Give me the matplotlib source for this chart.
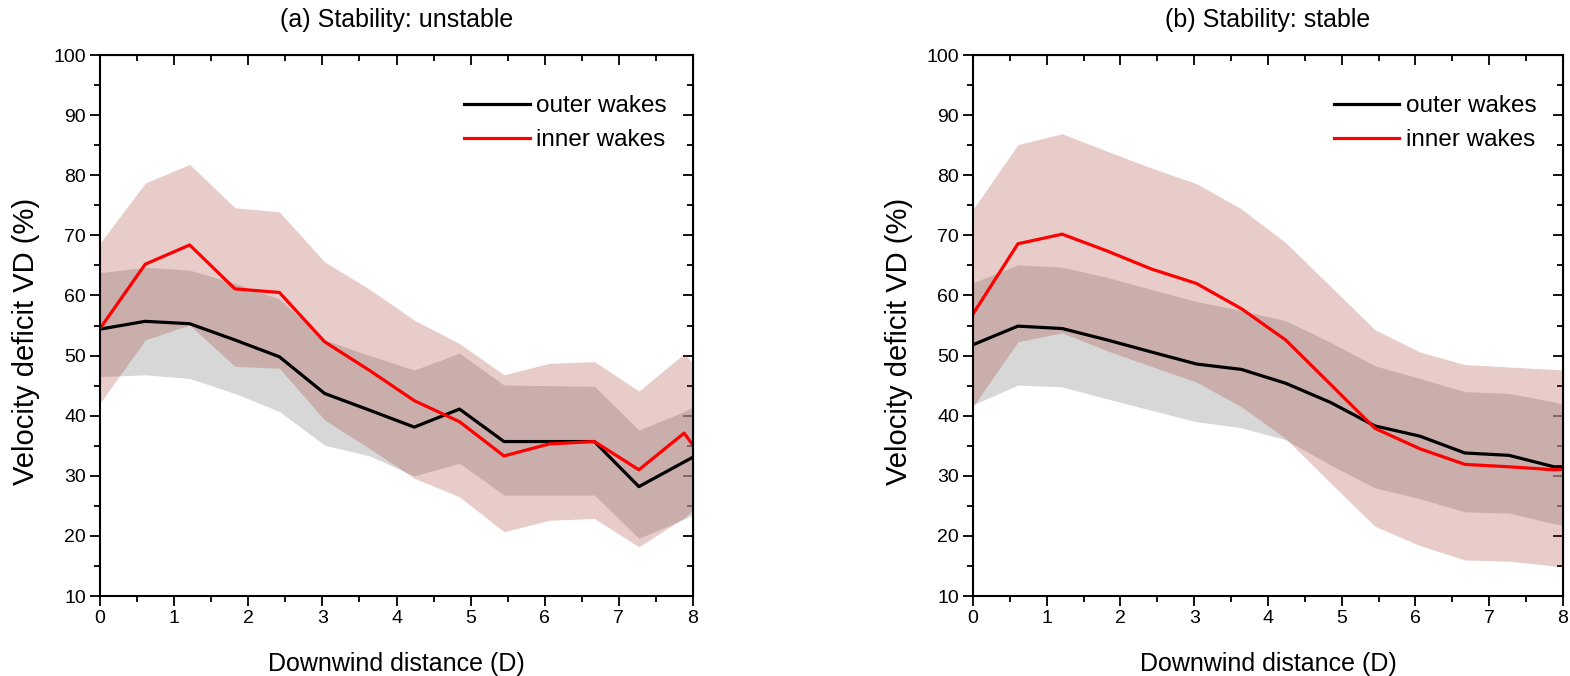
import numpy as np
import matplotlib
matplotlib.use("Agg")
import matplotlib.pyplot as plt
from matplotlib.ticker import MultipleLocator

plt.rcParams['font.family'] = ['Liberation Sans', 'DejaVu Sans']

# distances (D) shared by both panels
dist = [0.0, 0.61, 1.21, 1.82, 2.42, 3.03, 3.64, 4.24, 4.85, 5.45, 6.06, 6.67, 7.27, 7.88, 8.0]

# (a) unstable
a_outer = [54.4, 55.7, 55.3, 52.6, 49.8, 43.7, 40.9, 38.1, 41.1, 35.7, 35.7, 35.7, 28.2, 32.3, 33.1]
a_outer_hi = [63.8, 64.7, 64.2, 62.0, 59.4, 52.6, 50.0, 47.6, 50.4, 45.1, 45.0, 44.9, 37.6, 40.7, 41.5]
a_outer_lo = [46.5, 46.8, 46.2, 43.7, 40.7, 35.1, 33.3, 30.0, 32.1, 26.8, 26.8, 26.8, 19.6, 22.8, 23.5]
a_inner = [54.5, 65.2, 68.4, 61.1, 60.5, 52.3, 47.5, 42.5, 39.0, 33.3, 35.3, 35.7, 31.0, 37.1, 35.1]
a_inner_hi = [68.7, 78.7, 81.8, 74.6, 73.9, 65.6, 61.0, 55.9, 52.0, 46.8, 48.7, 49.0, 44.1, 50.3, 48.7]
a_inner_lo = [42.1, 52.6, 55.1, 48.2, 47.9, 39.3, 34.5, 29.6, 26.5, 20.7, 22.6, 22.9, 18.2, 23.0, 24.3]

# (b) stable
b_outer = [51.8, 54.9, 54.5, 52.6, 50.6, 48.6, 47.7, 45.4, 42.2, 38.3, 36.6, 33.8, 33.4, 31.5, 31.5]
b_outer_hi = [62.1, 65.1, 64.7, 63.0, 61.0, 59.0, 57.5, 55.8, 52.2, 48.3, 46.2, 44.0, 43.7, 42.3, 41.8]
b_outer_lo = [41.8, 45.1, 44.8, 42.8, 40.9, 39.0, 38.0, 36.0, 31.8, 28.0, 26.2, 24.0, 23.8, 22.0, 21.8]
b_inner = [56.9, 68.6, 70.2, 67.4, 64.4, 62.0, 57.8, 52.6, 45.2, 37.9, 34.5, 31.9, 31.5, 31.0, 31.1]
b_inner_hi = [74.3, 85.1, 86.9, 84.0, 81.2, 78.6, 74.4, 68.8, 61.5, 54.3, 50.6, 48.5, 48.1, 47.7, 47.6]
b_inner_lo = [41.5, 52.3, 53.8, 50.8, 48.2, 45.6, 41.5, 36.2, 28.8, 21.6, 18.4, 16.0, 15.8, 15.0, 14.9]

panels = [
    ("(a) Stability: unstable", a_outer, a_outer_lo, a_outer_hi, a_inner, a_inner_lo, a_inner_hi),
    ("(b) Stability: stable", b_outer, b_outer_lo, b_outer_hi, b_inner, b_inner_lo, b_inner_hi),
]

fig = plt.figure(figsize=(15.7, 6.76), dpi=100)
boxes = [[0.0637, 0.1183, 0.3777, 0.8003], [0.6197, 0.1183, 0.3758, 0.8003]]


def mirror_ticks(ax):
    # top and right axes carry inward ticks without labels
    top = ax.secondary_xaxis("top")
    top.xaxis.set_major_locator(MultipleLocator(1))
    top.xaxis.set_minor_locator(MultipleLocator(0.5))
    top.tick_params(which="both", direction="in", labeltop=False, width=1.3)
    top.tick_params(which="major", length=7)
    top.tick_params(which="minor", length=4)
    right = ax.secondary_yaxis("right")
    right.yaxis.set_major_locator(MultipleLocator(10))
    right.yaxis.set_minor_locator(MultipleLocator(5))
    right.tick_params(which="both", direction="in", labelright=False, width=1.3)
    right.tick_params(which="major", length=7)
    right.tick_params(which="minor", length=4)


for box, (title, o, olo, ohi, i, ilo, ihi) in zip(boxes, panels):
    ax = fig.add_axes(box)
    ax.fill_between(dist, olo, ohi, color="#bdbdbd", alpha=0.6, linewidth=0)
    ax.fill_between(dist, ilo, ihi, color="#a0342a", alpha=0.25, linewidth=0)
    ax.plot(dist, o, color="black", linewidth=2.3, label="outer wakes")
    ax.plot(dist, i, color="#ff0000", linewidth=2.3, label="inner wakes")

    ax.set_xlim(0, 8)
    ax.set_ylim(10, 100)
    ax.xaxis.set_major_locator(MultipleLocator(1))
    ax.xaxis.set_minor_locator(MultipleLocator(0.5))
    ax.yaxis.set_major_locator(MultipleLocator(10))
    ax.yaxis.set_minor_locator(MultipleLocator(5))
    ax.tick_params(which="both", direction="out", width=1.3, labelsize=14, pad=3)
    ax.tick_params(which="major", length=7)
    ax.tick_params(which="minor", length=4)
    for s in ax.spines.values():
        s.set_linewidth(1.5)
    mirror_ticks(ax)

    ax.set_title(title, fontsize=18, pad=20)
    ax.set_xlabel("Downwind distance (D)", fontsize=18, labelpad=18)
    ax.set_ylabel("Velocity deficit VD (%)", fontsize=21)
    ax.yaxis.set_label_coords(-0.102, 0.47)
    ax.legend(loc="upper right", bbox_to_anchor=(1.0, 0.975), frameon=False,
              fontsize=17.5, handlelength=2.7, handletextpad=0.25,
              borderaxespad=0.7, labelspacing=0.5)

fig.savefig("out.png", dpi=100)
